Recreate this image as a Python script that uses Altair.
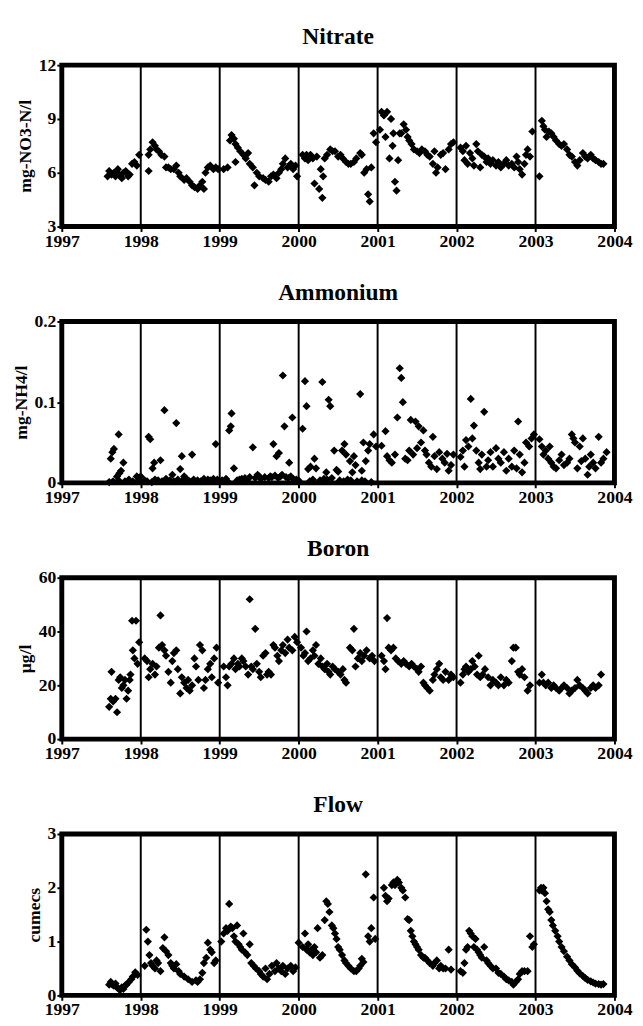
import altair as alt
import pandas as pd

years = [1998, 1999, 2000, 2001, 2002, 2003]
x_ticks = [1997, 1998, 1999, 2000, 2001, 2002, 2003, 2004]

nitrate = [
    (1997.58, 5.8), (1997.60, 6.1), (1997.63, 5.9), (1997.66, 6.0), (1997.68, 5.8), (1997.71, 6.2),
    (1997.73, 5.9), (1997.76, 5.7), (1997.78, 6.0), (1997.81, 6.1), (1997.84, 5.8), (1997.86, 5.9),
    (1997.89, 6.5), (1997.92, 6.6), (1997.95, 6.4), (1997.98, 7.0),
    (1998.10, 6.1), (1998.10, 7.0), (1998.12, 7.3), (1998.15, 7.7), (1998.18, 7.5), (1998.20, 7.3),
    (1998.23, 7.2), (1998.26, 7.0), (1998.30, 6.9), (1998.32, 6.3), (1998.35, 6.3), (1998.38, 6.2),
    (1998.42, 6.2), (1998.45, 6.4), (1998.48, 6.0), (1998.50, 5.8), (1998.55, 5.6), (1998.58, 5.7),
    (1998.62, 5.5), (1998.65, 5.3), (1998.68, 5.2), (1998.72, 5.1), (1998.75, 5.3), (1998.78, 5.5),
    (1998.80, 5.1), (1998.82, 6.0), (1998.85, 6.3), (1998.88, 6.4), (1998.92, 6.2), (1998.95, 6.3),
    (1998.98, 6.2),
    (1999.05, 6.2), (1999.10, 6.3), (1999.13, 7.8), (1999.15, 8.1), (1999.18, 7.9), (1999.20, 7.6),
    (1999.20, 6.6), (1999.23, 7.4), (1999.26, 7.2), (1999.30, 7.0), (1999.33, 6.8), (1999.36, 7.1),
    (1999.38, 6.5), (1999.42, 6.3), (1999.44, 5.3), (1999.47, 6.0), (1999.50, 5.8), (1999.55, 5.7),
    (1999.58, 5.6), (1999.62, 5.5), (1999.65, 5.8), (1999.68, 5.9), (1999.72, 5.7), (1999.75, 6.0),
    (1999.78, 6.2), (1999.80, 6.5), (1999.83, 6.8), (1999.86, 6.3), (1999.90, 6.5), (1999.93, 6.2),
    (1999.96, 6.4), (1999.98, 5.8),
    (2000.05, 7.0), (2000.08, 6.8), (2000.10, 7.0), (2000.12, 6.7), (2000.15, 7.0), (2000.18, 6.8),
    (2000.20, 5.4), (2000.23, 6.9), (2000.26, 5.1), (2000.28, 6.2), (2000.30, 4.6), (2000.31, 5.8),
    (2000.33, 6.8), (2000.36, 7.0), (2000.40, 7.3), (2000.43, 7.2), (2000.46, 7.2), (2000.50, 6.9),
    (2000.53, 7.0), (2000.56, 6.8), (2000.60, 6.6), (2000.63, 6.5), (2000.66, 6.5), (2000.70, 6.6),
    (2000.73, 6.8), (2000.78, 7.1), (2000.80, 7.0), (2000.83, 6.0), (2000.86, 6.2), (2000.88, 4.8),
    (2000.90, 4.4), (2000.92, 6.3), (2000.95, 8.2), (2000.98, 7.7),
    (2001.03, 8.4), (2001.05, 9.4), (2001.08, 9.2), (2001.10, 8.0), (2001.12, 9.4), (2001.15, 6.8),
    (2001.17, 9.0), (2001.19, 7.5), (2001.20, 8.2), (2001.22, 5.5), (2001.24, 5.0), (2001.26, 6.7),
    (2001.28, 8.2), (2001.30, 8.2), (2001.33, 8.7), (2001.36, 8.4), (2001.38, 8.0), (2001.40, 7.8),
    (2001.43, 7.6), (2001.46, 7.3), (2001.50, 7.2), (2001.53, 7.1), (2001.56, 7.3), (2001.60, 7.2),
    (2001.63, 7.0), (2001.66, 6.9), (2001.70, 6.5), (2001.72, 7.2), (2001.74, 6.0), (2001.76, 6.3),
    (2001.80, 7.0), (2001.83, 7.1), (2001.86, 6.2), (2001.90, 7.3), (2001.93, 7.6), (2001.96, 7.7),
    (2002.05, 7.4), (2002.08, 7.2), (2002.10, 6.7), (2002.12, 7.5), (2002.14, 6.5), (2002.17, 7.1),
    (2002.20, 6.8), (2002.22, 6.4), (2002.25, 7.6), (2002.27, 7.2), (2002.30, 6.3), (2002.32, 7.0),
    (2002.35, 6.9), (2002.38, 6.6), (2002.40, 6.8), (2002.43, 6.5), (2002.46, 6.7), (2002.50, 6.4),
    (2002.53, 6.6), (2002.56, 6.3), (2002.60, 6.5), (2002.63, 6.7), (2002.66, 6.4), (2002.70, 6.5),
    (2002.73, 6.3), (2002.76, 6.9), (2002.78, 6.6), (2002.80, 6.2), (2002.83, 5.9), (2002.86, 6.5),
    (2002.88, 7.0), (2002.90, 7.3), (2002.93, 6.9), (2002.96, 8.3),
    (2003.05, 5.8), (2003.08, 8.9), (2003.10, 8.6), (2003.12, 8.4), (2003.14, 8.0), (2003.17, 8.3),
    (2003.20, 8.2), (2003.23, 8.0), (2003.26, 7.8), (2003.30, 7.6), (2003.33, 7.5), (2003.36, 7.6),
    (2003.40, 7.3), (2003.43, 7.0), (2003.46, 6.9), (2003.50, 6.6), (2003.53, 6.4), (2003.56, 6.7),
    (2003.60, 7.1), (2003.63, 6.9), (2003.66, 6.8), (2003.70, 7.0), (2003.73, 6.8), (2003.76, 6.7),
    (2003.80, 6.6), (2003.83, 6.5), (2003.86, 6.5),
]

ammonium = [
    (1997.62, 0.030), (1997.64, 0.038), (1997.66, 0.042), (1997.70, 0.008), (1997.72, 0.060),
    (1997.73, 0.012), (1997.75, 0.015), (1997.78, 0.025), (1997.95, 0.008),
    (1998.10, 0.057), (1998.12, 0.054), (1998.15, 0.018), (1998.17, 0.025), (1998.25, 0.028),
    (1998.30, 0.090), (1998.40, 0.010), (1998.45, 0.074), (1998.50, 0.017), (1998.52, 0.033),
    (1998.55, 0.008), (1998.65, 0.035), (1998.95, 0.048),
    (1999.12, 0.065), (1999.14, 0.070), (1999.15, 0.086), (1999.18, 0.018), (1999.42, 0.044),
    (1999.48, 0.010), (1999.68, 0.048), (1999.72, 0.033), (1999.75, 0.037), (1999.80, 0.133),
    (1999.82, 0.070), (1999.88, 0.025), (1999.92, 0.081),
    (2000.05, 0.067), (2000.08, 0.126), (2000.10, 0.095), (2000.12, 0.017), (2000.15, 0.020),
    (2000.20, 0.030), (2000.22, 0.018), (2000.30, 0.125), (2000.35, 0.013), (2000.38, 0.103),
    (2000.40, 0.095), (2000.45, 0.040), (2000.48, 0.016), (2000.50, 0.014), (2000.55, 0.040),
    (2000.58, 0.048), (2000.60, 0.035), (2000.65, 0.027), (2000.68, 0.013), (2000.70, 0.033),
    (2000.72, 0.022), (2000.78, 0.110), (2000.80, 0.015), (2000.82, 0.050), (2000.85, 0.027),
    (2000.88, 0.040), (2000.90, 0.048), (2000.95, 0.060), (2000.98, 0.045),
    (2001.05, 0.046), (2001.10, 0.064), (2001.12, 0.033), (2001.15, 0.028), (2001.18, 0.025),
    (2001.22, 0.035), (2001.25, 0.081), (2001.28, 0.142), (2001.30, 0.130), (2001.32, 0.100),
    (2001.35, 0.030), (2001.38, 0.028), (2001.40, 0.040), (2001.42, 0.078), (2001.45, 0.035),
    (2001.48, 0.076), (2001.50, 0.043), (2001.52, 0.070), (2001.55, 0.050), (2001.58, 0.065),
    (2001.60, 0.040), (2001.62, 0.035), (2001.65, 0.025), (2001.68, 0.020), (2001.70, 0.057),
    (2001.72, 0.033), (2001.75, 0.017), (2001.78, 0.038), (2001.82, 0.030), (2001.85, 0.025),
    (2001.88, 0.036), (2001.90, 0.015), (2001.93, 0.022), (2001.96, 0.035),
    (2002.05, 0.032), (2002.08, 0.040), (2002.10, 0.020), (2002.12, 0.053), (2002.15, 0.045),
    (2002.18, 0.104), (2002.20, 0.055), (2002.22, 0.071), (2002.25, 0.040), (2002.28, 0.025),
    (2002.30, 0.017), (2002.32, 0.035), (2002.35, 0.088), (2002.38, 0.020), (2002.40, 0.028),
    (2002.43, 0.038), (2002.46, 0.020), (2002.50, 0.043), (2002.53, 0.030), (2002.56, 0.025),
    (2002.60, 0.038), (2002.63, 0.015), (2002.66, 0.030), (2002.70, 0.020), (2002.73, 0.040),
    (2002.76, 0.018), (2002.78, 0.076), (2002.80, 0.035), (2002.83, 0.013), (2002.86, 0.025),
    (2002.88, 0.050), (2002.92, 0.045), (2002.95, 0.055), (2002.98, 0.060),
    (2003.05, 0.054), (2003.08, 0.045), (2003.10, 0.035), (2003.13, 0.040), (2003.16, 0.030),
    (2003.18, 0.045), (2003.20, 0.025), (2003.23, 0.020), (2003.26, 0.018), (2003.30, 0.028),
    (2003.33, 0.035), (2003.36, 0.022), (2003.40, 0.025), (2003.43, 0.030), (2003.46, 0.060),
    (2003.48, 0.055), (2003.50, 0.050), (2003.53, 0.018), (2003.56, 0.045), (2003.58, 0.027),
    (2003.60, 0.055), (2003.63, 0.030), (2003.66, 0.010), (2003.68, 0.020), (2003.70, 0.035),
    (2003.73, 0.025), (2003.76, 0.018), (2003.80, 0.057), (2003.83, 0.025), (2003.86, 0.030),
    (2003.90, 0.038),
]

ammonium_low = [
    (1997.60, 0.001), (1997.65, 0.002), (1997.72, 0.003), (1997.80, 0.002), (1997.85, 0.004),
    (1997.90, 0.002), (1997.97, 0.003), (1998.00, 0.008), (1998.05, 0.003), (1998.08, 0.002),
    (1998.14, 0.001), (1998.18, 0.004), (1998.22, 0.003), (1998.27, 0.002), (1998.32, 0.005),
    (1998.37, 0.003), (1998.42, 0.002), (1998.47, 0.004), (1998.53, 0.003), (1998.57, 0.006),
    (1998.62, 0.002), (1998.67, 0.004), (1998.72, 0.003), (1998.76, 0.002), (1998.80, 0.005),
    (1998.85, 0.004), (1998.88, 0.003), (1998.92, 0.005), (1998.97, 0.004), (1999.00, 0.002),
    (1999.03, 0.003), (1999.08, 0.005), (1999.10, 0.002), (1999.22, 0.003), (1999.25, 0.004),
    (1999.28, 0.005), (1999.32, 0.006), (1999.35, 0.004), (1999.38, 0.007), (1999.45, 0.006),
    (1999.50, 0.008), (1999.52, 0.005), (1999.57, 0.007), (1999.62, 0.006), (1999.64, 0.008),
    (1999.66, 0.007), (1999.70, 0.009), (1999.74, 0.006), (1999.77, 0.008), (1999.79, 0.010),
    (1999.84, 0.007), (1999.87, 0.006), (1999.90, 0.008), (1999.93, 0.005), (1999.97, 0.004),
    (2000.00, 0.003), (2000.14, 0.002), (2000.18, 0.004), (2000.27, 0.003), (2000.32, 0.005),
    (2000.36, 0.004), (2000.42, 0.006), (2000.52, 0.003), (2000.57, 0.002), (2000.62, 0.004),
    (2000.66, 0.003), (2000.74, 0.002), (2000.80, 0.003), (2000.84, 0.002), (2000.92, 0.001),
]

boron = [
    (1997.60, 12), (1997.62, 15), (1997.63, 25), (1997.65, 14), (1997.68, 15), (1997.70, 10),
    (1997.72, 22), (1997.74, 23), (1997.76, 19), (1997.78, 20), (1997.80, 22), (1997.82, 15),
    (1997.84, 18), (1997.86, 22), (1997.87, 24), (1997.89, 44), (1997.90, 33), (1997.92, 30),
    (1997.94, 44), (1997.96, 28), (1997.98, 36),
    (1998.05, 30), (1998.08, 29), (1998.10, 23), (1998.12, 26), (1998.15, 28), (1998.18, 24),
    (1998.20, 27), (1998.23, 34), (1998.25, 46), (1998.27, 35), (1998.30, 33), (1998.32, 31),
    (1998.35, 25), (1998.38, 21), (1998.40, 29), (1998.42, 32), (1998.45, 33), (1998.47, 26),
    (1998.50, 17), (1998.52, 23), (1998.55, 21), (1998.58, 19), (1998.60, 22), (1998.62, 18),
    (1998.65, 20), (1998.68, 30), (1998.70, 27), (1998.73, 22), (1998.75, 35), (1998.78, 33),
    (1998.80, 19), (1998.82, 22), (1998.85, 26), (1998.88, 28), (1998.90, 23), (1998.93, 30),
    (1998.96, 34), (1998.98, 21),
    (1999.05, 27), (1999.08, 23), (1999.10, 20), (1999.12, 27), (1999.15, 28), (1999.18, 30),
    (1999.20, 26), (1999.23, 28), (1999.25, 27), (1999.28, 30), (1999.30, 29), (1999.33, 27),
    (1999.36, 24), (1999.38, 52), (1999.40, 27), (1999.42, 26), (1999.45, 41), (1999.47, 28),
    (1999.50, 25), (1999.52, 23), (1999.55, 31), (1999.58, 32), (1999.60, 24), (1999.62, 25),
    (1999.65, 24), (1999.68, 35), (1999.70, 34), (1999.73, 31), (1999.75, 29), (1999.78, 33),
    (1999.80, 35), (1999.83, 32), (1999.86, 37), (1999.88, 34), (1999.92, 33), (1999.95, 38),
    (1999.98, 36),
    (2000.03, 34), (2000.06, 31), (2000.08, 32), (2000.10, 40), (2000.12, 29), (2000.15, 30),
    (2000.18, 33), (2000.20, 31), (2000.22, 35), (2000.25, 28), (2000.28, 30), (2000.30, 27),
    (2000.33, 26), (2000.36, 28), (2000.38, 25), (2000.40, 24), (2000.43, 27), (2000.46, 26),
    (2000.50, 25), (2000.53, 24), (2000.56, 26), (2000.58, 22), (2000.60, 21), (2000.65, 34),
    (2000.68, 33), (2000.70, 41), (2000.72, 27), (2000.75, 30), (2000.78, 32), (2000.80, 29),
    (2000.83, 31), (2000.86, 33), (2000.90, 30), (2000.93, 31), (2000.96, 29),
    (2001.05, 31), (2001.08, 29), (2001.10, 26), (2001.12, 45), (2001.14, 34), (2001.17, 33),
    (2001.20, 34), (2001.23, 30), (2001.26, 29), (2001.30, 28), (2001.33, 29), (2001.36, 28),
    (2001.40, 27), (2001.43, 28), (2001.46, 27), (2001.50, 26), (2001.52, 25), (2001.55, 27),
    (2001.58, 21), (2001.60, 20), (2001.63, 19), (2001.66, 18), (2001.70, 22), (2001.72, 24),
    (2001.75, 26), (2001.78, 28), (2001.80, 23), (2001.83, 22), (2001.86, 25), (2001.90, 22),
    (2001.93, 24), (2001.96, 23),
    (2002.05, 21), (2002.08, 24), (2002.10, 26), (2002.12, 27), (2002.15, 25), (2002.18, 26),
    (2002.20, 29), (2002.23, 27), (2002.26, 24), (2002.28, 31), (2002.30, 23), (2002.33, 24),
    (2002.36, 26), (2002.40, 23), (2002.43, 20), (2002.46, 22), (2002.50, 21), (2002.53, 20),
    (2002.56, 23), (2002.60, 20), (2002.63, 22), (2002.66, 21), (2002.70, 29), (2002.72, 34),
    (2002.75, 34), (2002.78, 25), (2002.80, 24), (2002.83, 26), (2002.86, 23), (2002.90, 18),
    (2002.93, 20),
    (2003.05, 21), (2003.08, 24), (2003.10, 21), (2003.13, 20), (2003.16, 21), (2003.20, 19),
    (2003.23, 20), (2003.26, 19), (2003.30, 18), (2003.33, 19), (2003.36, 20), (2003.40, 19),
    (2003.43, 17), (2003.46, 18), (2003.50, 19), (2003.53, 22), (2003.56, 20), (2003.60, 19),
    (2003.63, 18), (2003.66, 17), (2003.70, 19), (2003.73, 20), (2003.76, 19), (2003.80, 20),
    (2003.83, 24),
]

flow = [
    (1997.60, 0.20), (1997.62, 0.25), (1997.64, 0.20), (1997.66, 0.18), (1997.68, 0.22), (1997.70, 0.15),
    (1997.72, 0.12), (1997.74, 0.10), (1997.76, 0.15), (1997.78, 0.12), (1997.80, 0.18), (1997.82, 0.20),
    (1997.85, 0.25), (1997.88, 0.30), (1997.90, 0.35), (1997.93, 0.43), (1997.96, 0.38),
    (1998.05, 0.55), (1998.07, 1.22), (1998.09, 1.00), (1998.11, 0.75), (1998.13, 0.60), (1998.15, 0.55),
    (1998.18, 0.50), (1998.20, 0.65), (1998.22, 0.60), (1998.25, 0.45), (1998.28, 0.88), (1998.30, 1.08),
    (1998.32, 0.82), (1998.35, 0.75), (1998.38, 0.60), (1998.40, 0.55), (1998.42, 0.50), (1998.45, 0.58),
    (1998.48, 0.45), (1998.50, 0.40), (1998.55, 0.35), (1998.60, 0.30), (1998.65, 0.25), (1998.70, 0.28),
    (1998.72, 0.25), (1998.75, 0.30), (1998.78, 0.42), (1998.80, 0.60), (1998.83, 0.70), (1998.85, 0.98),
    (1998.88, 0.85), (1998.90, 0.80), (1998.93, 0.60), (1998.95, 0.65),
    (1999.02, 1.00), (1999.05, 1.15), (1999.08, 1.25), (1999.10, 1.20), (1999.12, 1.70), (1999.14, 1.28),
    (1999.16, 1.25), (1999.18, 1.10), (1999.20, 1.00), (1999.22, 1.30), (1999.24, 0.95), (1999.26, 0.90),
    (1999.28, 0.85), (1999.30, 1.15), (1999.32, 0.80), (1999.35, 0.75), (1999.38, 0.95), (1999.40, 0.60),
    (1999.43, 0.55), (1999.46, 0.50), (1999.50, 0.45), (1999.52, 0.40), (1999.55, 0.35), (1999.58, 0.50),
    (1999.60, 0.30), (1999.63, 0.40), (1999.66, 0.55), (1999.70, 0.45), (1999.72, 0.60), (1999.75, 0.50),
    (1999.78, 0.45), (1999.80, 0.55), (1999.83, 0.40), (1999.86, 0.50), (1999.90, 0.55), (1999.93, 0.45),
    (1999.96, 0.52),
    (2000.00, 0.98), (2000.05, 0.90), (2000.08, 1.15), (2000.10, 0.85), (2000.12, 0.95), (2000.14, 0.80),
    (2000.16, 0.85), (2000.18, 0.75), (2000.20, 0.90), (2000.22, 0.80), (2000.24, 1.25), (2000.27, 0.70),
    (2000.30, 0.75), (2000.33, 1.40), (2000.35, 1.75), (2000.37, 1.70), (2000.39, 1.55), (2000.42, 1.30),
    (2000.44, 1.25), (2000.46, 1.15), (2000.48, 1.05), (2000.50, 0.90), (2000.52, 0.85), (2000.55, 0.75),
    (2000.58, 0.65), (2000.60, 0.60), (2000.63, 0.55), (2000.66, 0.50), (2000.70, 0.45), (2000.73, 0.45),
    (2000.76, 0.50), (2000.78, 0.55), (2000.80, 0.68), (2000.82, 0.62), (2000.85, 2.25), (2000.88, 1.10),
    (2000.90, 1.00), (2000.92, 1.25), (2000.95, 1.82), (2000.97, 1.05),
    (2001.08, 2.00), (2001.10, 1.85), (2001.12, 1.75), (2001.14, 1.80), (2001.18, 2.05), (2001.20, 2.10),
    (2001.22, 2.05), (2001.25, 2.15), (2001.27, 2.10), (2001.30, 2.00), (2001.32, 1.95), (2001.35, 1.82),
    (2001.38, 1.42), (2001.40, 1.40), (2001.42, 1.20), (2001.44, 1.10), (2001.46, 1.00), (2001.48, 0.95),
    (2001.50, 0.90), (2001.52, 0.85), (2001.55, 0.75), (2001.58, 0.70), (2001.60, 0.70), (2001.63, 0.65),
    (2001.66, 0.60), (2001.70, 0.55), (2001.72, 0.60), (2001.75, 0.65), (2001.78, 0.50), (2001.80, 0.55),
    (2001.83, 0.50), (2001.86, 0.50), (2001.90, 0.85), (2001.93, 0.48),
    (2002.05, 0.45), (2002.08, 0.42), (2002.10, 0.60), (2002.12, 0.85), (2002.14, 0.90), (2002.16, 1.20),
    (2002.18, 1.15), (2002.20, 1.10), (2002.22, 0.90), (2002.24, 1.05), (2002.26, 0.85), (2002.28, 0.80),
    (2002.30, 0.75), (2002.32, 0.70), (2002.35, 0.90), (2002.38, 0.65), (2002.40, 0.60), (2002.43, 0.55),
    (2002.46, 0.50), (2002.50, 0.50), (2002.53, 0.42), (2002.56, 0.40), (2002.60, 0.35), (2002.63, 0.30),
    (2002.66, 0.28), (2002.70, 0.25), (2002.72, 0.20), (2002.75, 0.25), (2002.78, 0.30), (2002.80, 0.40),
    (2002.83, 0.45), (2002.86, 0.45), (2002.90, 0.45), (2002.93, 1.10), (2002.96, 0.90), (2002.98, 0.95),
    (2003.05, 1.95), (2003.07, 2.00), (2003.08, 1.95), (2003.10, 2.00), (2003.12, 1.90), (2003.14, 1.75),
    (2003.16, 1.60), (2003.18, 1.55), (2003.20, 1.40), (2003.22, 1.30), (2003.25, 1.20), (2003.28, 1.10),
    (2003.30, 1.00), (2003.33, 0.90), (2003.36, 0.82), (2003.40, 0.72), (2003.43, 0.65), (2003.46, 0.58),
    (2003.50, 0.52), (2003.53, 0.46), (2003.56, 0.41), (2003.60, 0.36), (2003.63, 0.32), (2003.66, 0.29),
    (2003.70, 0.26), (2003.73, 0.24), (2003.76, 0.22), (2003.80, 0.21), (2003.83, 0.20), (2003.86, 0.21),
]

FONT = "Liberation Serif"
W, H = 565, 165

year_df = pd.DataFrame({"t": years})


def panel(points, title, ytitle, ydomain, yvalues, yformat):
    df = pd.DataFrame(points, columns=["t", "v"])
    xenc = alt.X("t:Q", scale=alt.Scale(domain=[1997, 2004], nice=False, zero=False),
                 axis=alt.Axis(values=x_ticks, format="d", title=None, labelFlush=False))
    rules = alt.Chart(year_df).mark_rule(color="black", strokeWidth=2).encode(x=xenc)
    pts = alt.Chart(df).mark_point(shape="diamond", filled=True, color="black",
                                   size=70, opacity=1).encode(
        x=xenc,
        y=alt.Y("v:Q", scale=alt.Scale(domain=ydomain, nice=False, zero=False),
                axis=alt.Axis(values=yvalues, format=yformat, title=ytitle,
                              titlePadding=4, labelFlush=False)),
    )
    return alt.layer(rules, pts).properties(
        width=W, height=H,
        title=alt.TitleParams(text=title, font=FONT, fontSize=24, fontWeight="bold",
                              anchor="middle", frame="group", offset=8, color="black"),
    )


c1 = panel(nitrate, "Nitrate", "mg-NO3-N/l", [3, 12], [3, 6, 9, 12], "d")
c2 = panel(ammonium + ammonium_low, "Ammonium", "mg-NH4/l", [0, 0.2], [0, 0.1, 0.2], ".1~f")
c3 = panel(boron, "Boron", "µg/l", [0, 60], [0, 20, 40, 60], "d")
c4 = panel(flow, "Flow", "cumecs", [0, 3], [0, 1, 2, 3], "d")

chart = alt.vconcat(c1, c2, c3, c4, spacing=26).properties(
    padding={"left": 2, "top": 3, "right": 0, "bottom": 0}
).configure_view(
    stroke="black", strokeWidth=5
).configure_axis(
    labelFont=FONT, labelFontWeight="bold", labelFontSize=18, labelColor="black",
    titleFont=FONT, titleFontWeight="bold", titleFontSize=18, titleColor="black",
    domain=False, grid=False, tickColor="black", tickWidth=2, tickSize=5, labelPadding=1,
)

chart.save("out.html", embed_options={"renderer": "svg", "actions": False})
